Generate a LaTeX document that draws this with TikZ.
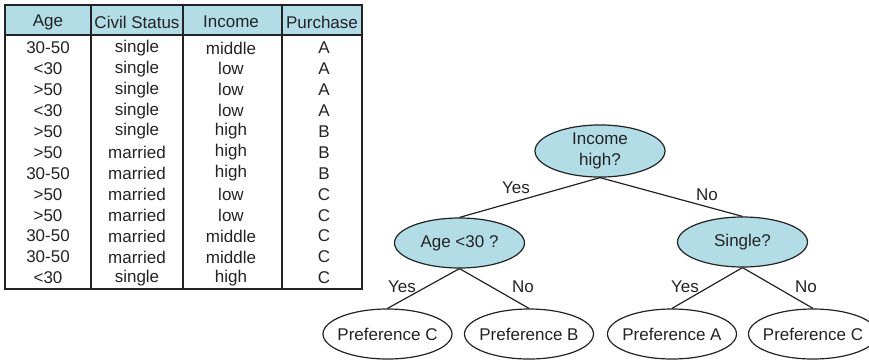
\documentclass[tikz,border=0pt]{standalone}
\usepackage{fontspec}
\setmainfont{Liberation Sans}
\usetikzlibrary{shapes.geometric,positioning}
\definecolor{nodefill}{RGB}{178, 220, 230}
\definecolor{inkgray}{RGB}{35, 35, 35}

\begin{document}
\begin{tikzpicture}[x=0.5pt, y=-0.5pt, line width=0.6pt, draw=inkgray,
    every node/.style={font=\fontsize{8.5}{10.8}\selectfont, text=inkgray},
    decision/.style={ellipse, draw, fill=nodefill, minimum width=65pt, minimum height=25pt, inner xsep=-3pt, inner ysep=0pt, align=center},
    leaf/.style={ellipse, draw, fill=white, minimum width=64.5pt, minimum height=25pt, inner xsep=-3pt, inner ysep=0pt}]
    \useasboundingbox (0,0) rectangle (869,360);

    % data table
    \fill[nodefill] (5,5) rectangle (362,35);
    \draw (5,5) rectangle (362,289);
    \draw (5,35) -- (362,35);
    \foreach \x in {91,183,282} \draw (\x,5) -- (\x,289);
    \node (hAge) at (48,22) {Age};
    \node (hCivil) at (137,22) {Civil Status};
    \node (hIncome) at (231,22) {Income};
    \node (hPurchase) at (322,22) {Purchase};
    \foreach [count=\i from 0] \a/\c/\n/\p in {30-50/single/middle/A, <30/single/low/A, >50/single/low/A,
        <30/single/low/A, >50/single/high/B, >50/married/high/B, 30-50/married/high/B, >50/married/low/C,
        >50/married/low/C, 30-50/married/middle/C, 30-50/married/middle/C, <30/single/high/C} {
        \node (age\i) at (48,{48+20.9*\i}) {\a};
        \node (civil\i) at (137,{48+20.9*\i}) {\c};
        \node (income\i) at (231,{48+20.9*\i}) {\n};
        \node (purchase\i) at (324,{48+20.9*\i}) {\p};
    }

    % decision tree
    \node[decision, minimum height=26pt] (income) at (600,151) {Income\\high?};
    \node[decision] (age) at (459.5,243) {Age <30 ?};
    \node[decision] (single) at (742.5,242) {Single?};
    \node[leaf] (prefC1) at (387.5,334) {Preference C};
    \node[leaf] (prefB) at (529,334) {Preference B};
    \node[leaf] (prefA) at (672,334) {Preference A};
    \node[leaf] (prefC2) at (813,334) {Preference C};

    \draw (income.south) -- (age.north);
    \draw (income.south) -- (single.north);
    \draw (age.south) -- (prefC1.north);
    \draw (age.south) -- (prefB.north);
    \draw (single.south) -- (prefA.north);
    \draw (single.south) -- (prefC2.north);

    \node (yesIncome) at (516,188) {Yes};
    \node (noIncome) at (707,195) {No};
    \node (yesAge) at (402,287) {Yes};
    \node (noAge) at (523,287) {No};
    \node (yesSingle) at (685,287) {Yes};
    \node (noSingle) at (806,287) {No};
\end{tikzpicture}
\end{document}
